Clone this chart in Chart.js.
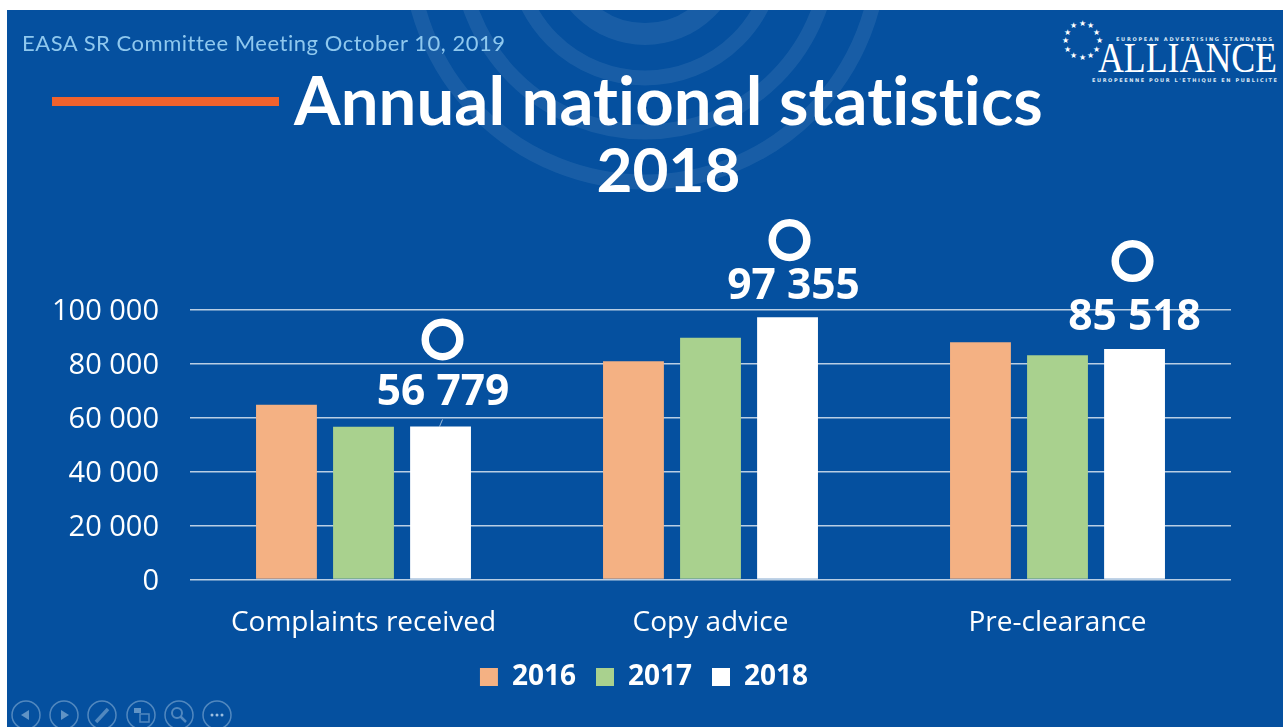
<!DOCTYPE html>
<html>
<head>
<meta charset="utf-8">
<title>Annual national statistics 2018</title>
<script src="https://cdn.jsdelivr.net/npm/chart.js@4"></script>
<style>
    html, body { margin: 0; padding: 0; background: #fff; overflow: hidden; }
    #slide { position: absolute; left: 7px; top: 10px; width: 1276px; height: 717px; background: #05509f; overflow: hidden; }
    #art { position: absolute; left: 0; top: 0; }
    #chartBox { position: absolute; left: 0; top: 0; width: 1276px; height: 717px; }
    .txt { position: absolute; white-space: nowrap; }
    #meeting { left: 15px; top: 19px; font: 22px Lato, sans-serif; color: #8fc8ee; letter-spacing: 0.52px; }
    .title { font-family: Lato, sans-serif; font-weight: bold; font-variant-ligatures: none; color: #fff; text-align: center; left: 287px; width: 749px; }
    #title1 { top: 49px; font-size: 67px; letter-spacing: 0.1px; }
    #title2 { top: 121px; font-size: 62px; }
    #dash { position: absolute; left: 45px; top: 87px; width: 227px; height: 9px; background: #f0622d; }
</style>
</head>
<body>
<div id="slide">
    <svg id="art" width="1276" height="717" xmlns="http://www.w3.org/2000/svg"></svg>
    <div id="chartBox"><canvas id="statsChart"></canvas></div>
    <div id="dash"></div>
    <div class="txt" id="meeting">EASA SR Committee Meeting October 10, 2019</div>
    <div class="txt title" id="title1">Annual national statistics</div>
    <div class="txt title" id="title2">2018</div>
</div>
<script>
const categories = ['Complaints received', 'Copy advice', 'Pre-clearance'];
const years = ['2016', '2017', '2018'];
const values2016 = [64800, 81000, 88000];
const values2017 = [56700, 89700, 83200];
const values2018 = [56779, 97355, 85518];
const yTicks = [0, 20000, 40000, 60000, 80000, 100000];

const fmt = v => String(v).replace(/\B(?=(\d{3})+$)/g, ' ');

// background art (rings, logo, slideshow buttons)
const art = document.getElementById('art');
let svg = '';
[[235, 15], [185, 15], [131, 15], [87, 22]].forEach(r => {
    svg += `<circle cx="638" cy="-63" r="${r[0]}" fill="none" stroke="#fff" stroke-opacity="0.08" stroke-width="${r[1]}"/>`;
});
for (let i = 0; i < 12; i++) {
    const a = i * Math.PI / 6;
    svg += `<text x="${1075 + 17 * Math.cos(a)}" y="${33 + 17 * Math.sin(a)}" font-size="8" fill="#fff" text-anchor="middle">★</text>`;
}
svg += `<text x="1091" y="62" font-family="Liberation Serif" font-size="43" fill="#fff" textLength="179" lengthAdjust="spacingAndGlyphs">ALLIANCE</text>`;
svg += `<text x="1109" y="31" font-family="DejaVu Sans" font-weight="bold" font-size="5" fill="#dbe8f5" textLength="156">EUROPEAN ADVERTISING STANDARDS</text>`;
svg += `<text x="1085" y="72" font-family="DejaVu Sans" font-weight="bold" font-size="5" fill="#dbe8f5" textLength="185">EUROPEENNE POUR L'ETHIQUE EN PUBLICITE</text>`;
const navX = [19, 57, 95, 134, 172, 210];
const navStroke = 'stroke="#9dbfe0" stroke-opacity="0.5"';
navX.forEach(x => {
    svg += `<circle cx="${x}" cy="705" r="14" fill="none" ${navStroke} stroke-width="1.5"/>`;
});
svg += `<path d="M14 705l8-5v10z" fill="#9dbfe0" fill-opacity="0.6"/>`;
svg += `<path d="M62 705l-8-5v10z" fill="#9dbfe0" fill-opacity="0.6"/>`;
svg += `<path d="M89 712l12-13" ${navStroke} stroke-width="3.5"/>`;
svg += `<rect x="127" y="698" width="7" height="5" fill="#9dbfe0" fill-opacity="0.6"/><rect x="133" y="704" width="9" height="8" fill="none" ${navStroke} stroke-width="1.5"/>`;
svg += `<circle cx="170" cy="703" r="5" fill="none" ${navStroke} stroke-width="2"/><path d="M174 707l5 5" ${navStroke} stroke-width="2.5"/>`;
[205, 210, 215].forEach(x => {
    svg += `<circle cx="${x}" cy="705" r="1.5" fill="#9dbfe0"/>`;
});
art.innerHTML = svg;

// big value labels with the ring above them, on the 2018 bars
const callouts = {
    id: 'callouts',
    afterLayout(chart) {
        // legend is centred on the slide, not on the plot
        chart.legend.left += 25;
        chart.legend.right += 25;
    },
    afterDatasetsDraw(chart) {
        const ctx = chart.ctx;
        const bars = chart.getDatasetMeta(2).data;
        const labelLift = [34, 30, 31];
        const labelShift = [2.5, 6, 0];
        const ringLift = [87, 77, 88];
        const ringShift = [2, 2, -2];
        ctx.save();
        bars.forEach((bar, i) => {
            ctx.fillStyle = '#fff';
            ctx.font = 'bold 42.5px "Open Sans"';
            ctx.textAlign = 'center';
            ctx.textBaseline = 'middle';
            ctx.fillText(fmt(values2018[i]), bar.x + labelShift[i], bar.y - labelLift[i]);
            ctx.beginPath();
            ctx.arc(bar.x + ringShift[i], bar.y - ringLift[i], 17.3, 0, Math.PI * 2);
            ctx.lineWidth = 7.5;
            ctx.strokeStyle = '#fff';
            ctx.stroke();
        });
        // leader line of the first label
        ctx.beginPath();
        ctx.moveTo(bars[0].x + 2, bars[0].y - 7);
        ctx.lineTo(bars[0].x - 1, bars[0].y);
        ctx.lineWidth = 1;
        ctx.strokeStyle = 'rgba(255,255,255,0.6)';
        ctx.stroke();
        ctx.restore();
    }
};

const chart = new Chart(document.getElementById('statsChart'), {
    type: 'bar',
    data: {
        labels: categories,
        datasets: [
            { label: years[0], data: values2016, backgroundColor: '#f4b183' },
            { label: years[1], data: values2017, backgroundColor: '#a9d18e' },
            { label: years[2], data: values2018, backgroundColor: '#ffffff' }
        ]
    },
    options: {
        responsive: true,
        maintainAspectRatio: false,
        animation: false,
        devicePixelRatio: 1,
        datasets: { bar: { categoryPercentage: 0.666, barPercentage: 0.79 } },
        layout: { padding: { top: 300, right: 52, bottom: 26, left: 0 } },
        scales: {
            y: {
                min: 0,
                max: 100000,
                afterBuildTicks: scale => { scale.ticks = yTicks.map(v => ({ value: v })); },
                afterFit: scale => { scale.width = 183; },
                border: { display: false },
                grid: { color: 'rgba(255,255,255,0.72)', lineWidth: 1.4, drawTicks: false },
                ticks: {
                    padding: 31,
                    labelOffset: 2,
                    color: '#ffffff',
                    font: { family: 'Open Sans', size: 29 },
                    callback: v => fmt(v)
                }
            },
            x: {
                afterFit: scale => { scale.height = 63.5; },
                border: { display: false },
                grid: { display: false, drawTicks: false },
                ticks: {
                    padding: 27,
                    color: '#ffffff',
                    maxRotation: 0,
                    font: { family: 'Open Sans', size: 28 }
                }
            }
        },
        plugins: {
            tooltip: { enabled: false },
            legend: {
                position: 'bottom',
                labels: {
                    boxWidth: 18,
                    boxHeight: 18,
                    padding: 20,
                    color: '#ffffff',
                    font: { family: 'Open Sans', size: 28, weight: 'bold' }
                }
            }
        }
    },
    plugins: [callouts]
});
</script>
</body>
</html>
